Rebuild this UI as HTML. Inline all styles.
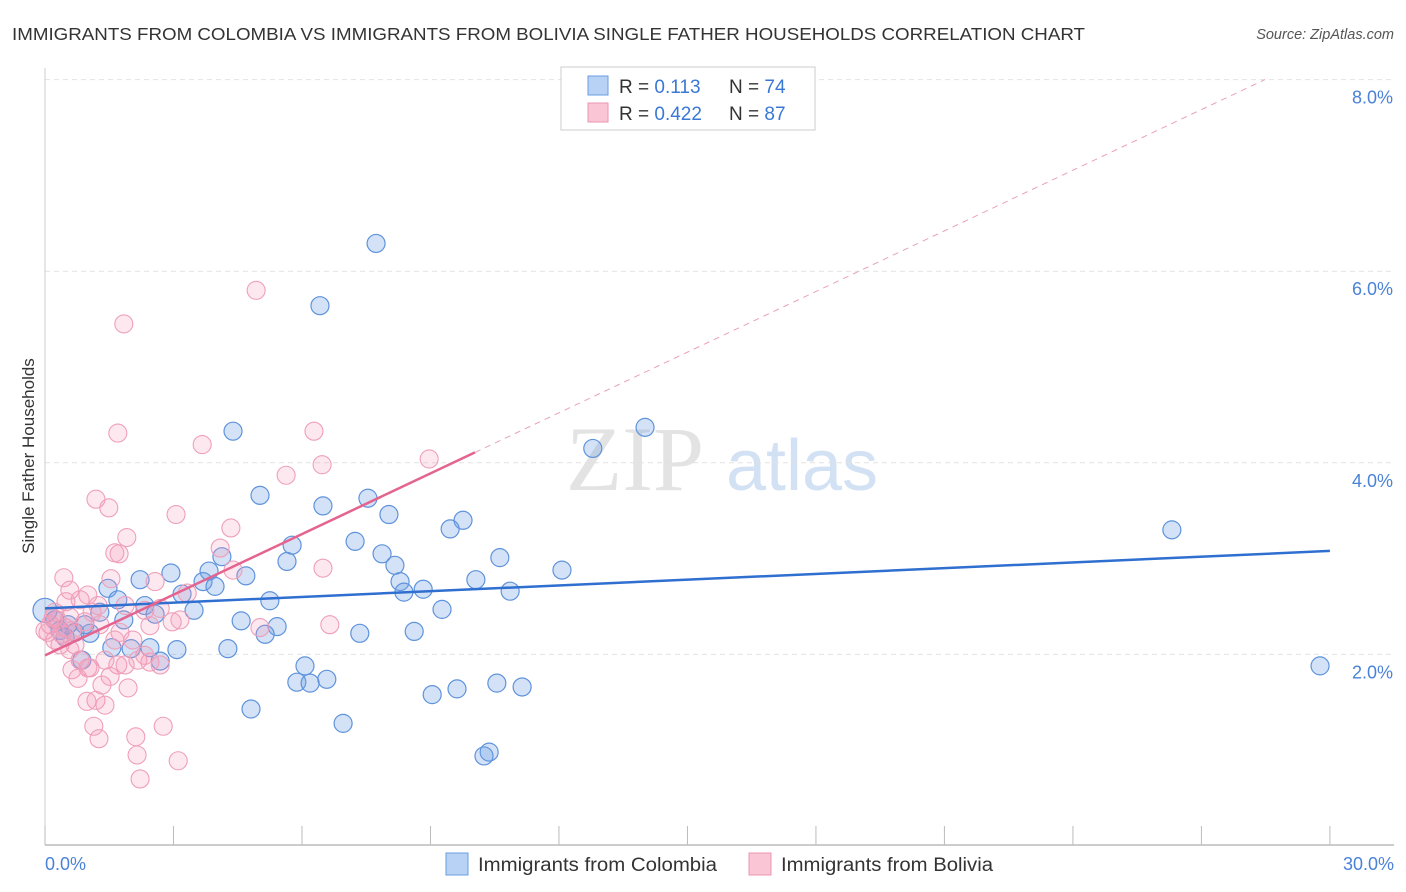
<!DOCTYPE html>
<html><head><meta charset="utf-8"><style>
body{margin:0;background:#fff;font-family:"Liberation Sans",sans-serif;}
svg{display:block}
</style></head><body>
<svg id="chart" width="1406" height="892">
<text x="12" y="40" font-size="17.5" fill="#333" textLength="1073" lengthAdjust="spacingAndGlyphs">IMMIGRANTS FROM COLOMBIA VS IMMIGRANTS FROM BOLIVIA SINGLE FATHER HOUSEHOLDS CORRELATION CHART</text>
<text x="1394" y="39" font-size="14.5" fill="#555" font-style="italic" text-anchor="end">Source: ZipAtlas.com</text>
<text x="34" y="456" font-size="17" fill="#333" text-anchor="middle" transform="rotate(-90 34 456)">Single Father Households</text>
<g><text x="635" y="490" font-size="92" fill="#ddd" font-family="Liberation Serif,serif" text-anchor="middle" opacity="0.8">ZIP</text><text x="802" y="490" font-size="72" fill="#c9daf2" text-anchor="middle" opacity="0.8">atlas</text></g>
<g id="grid"></g>
<g id="axes"></g>
<g id="pts"></g>
<g id="trend"></g>
<g>
<rect x="561" y="67" width="254" height="63" fill="#fff" stroke="#ccc"/>
<rect x="588" y="76" width="20" height="19" fill="#b7d2f5" stroke="#6a9de0"/>
<rect x="588" y="103" width="20" height="19" fill="#fac6d5" stroke="#eb96b1"/>
<text x="619" y="93" font-size="19" fill="#333">R = <tspan fill="#3a78d6"> 0.113</tspan><tspan x="729">N = </tspan><tspan fill="#3a78d6">74</tspan></text>
<text x="619" y="120" font-size="19" fill="#333">R = <tspan fill="#3a78d6">0.422</tspan><tspan x="729">N = </tspan><tspan fill="#3a78d6">87</tspan></text>
</g>
<g>
<rect x="446" y="853" width="22" height="22" fill="#b7d2f5" stroke="#6a9de0"/>
<text x="478" y="871" font-size="19" fill="#333" textLength="239" lengthAdjust="spacingAndGlyphs">Immigrants from Colombia</text>
<rect x="749" y="853" width="22" height="22" fill="#fac6d5" stroke="#eb96b1"/>
<text x="781" y="871" font-size="19" fill="#333" textLength="212" lengthAdjust="spacingAndGlyphs">Immigrants from Bolivia</text>
</g>
</svg>
<script>
const xTicks=[0,3,6,9,12,15,18,21,24,27,30];
const yTicks=[2,4,6,8];
const yTickLabels=["2.0%","4.0%","6.0%","8.0%"];
const xEndLabels=["0.0%","30.0%"];
const colX=[7.73,6.42,14.01,4.39,12.79,5.02,6.49,7.54,8.03,9.76,9.46,7.24,5.77,7.87,10.62,12.07,8.17,26.31,4.13,5.65,2.94,4.69,2.22,3.83,3.69,3.97,1.47,8.29,8.83,8.38,10.06,10.86,1.70,2.33,3.48,5.25,3.20,2.57,1.28,1.84,4.58,5.42,5.14,7.35,8.62,9.27,4.27,3.08,2.01,2.45,1.56,2.69,6.07,5.88,6.19,6.58,9.04,9.62,10.55,11.14,4.81,6.96,10.37,10.25,29.77,0,0.35,0.70,1.05,0.23,0.54,0.93,0.86,0.47];
const colY=[6.29,5.64,4.37,4.33,4.15,3.66,3.55,3.63,3.46,3.40,3.31,3.18,3.14,3.05,3.01,2.88,2.93,3.30,3.02,2.97,2.85,2.82,2.78,2.87,2.76,2.71,2.69,2.76,2.68,2.65,2.78,2.66,2.57,2.51,2.46,2.56,2.63,2.42,2.44,2.36,2.35,2.29,2.21,2.22,2.24,2.47,2.06,2.05,2.06,2.07,2.07,1.93,1.88,1.71,1.70,1.74,1.58,1.64,1.70,1.66,1.43,1.28,0.98,0.94,1.88,2.46,2.25,2.23,2.22,2.36,2.31,2.31,1.94,2.18];
const bolX=[4.93,1.84,1.70,3.67,6.28,5.63,6.47,8.97,1.19,1.49,3.06,4.34,1.91,4.09,1.63,1.73,6.49,0.44,4.39,1.54,2.57,0.58,1.00,0.49,0.82,1.24,1.87,3.32,2.69,2.33,0.23,0.58,0.93,1.28,1.75,2.45,2.97,3.15,2.05,5.02,6.65,0,0.23,0.40,0.12,0.35,0.58,0.82,1.05,1.40,1.70,2.17,2.45,2.69,0.63,1.00,0.77,1.52,1.33,1.94,1.19,0.98,1.40,1.14,2.76,1.26,2.12,2.15,3.11,2.22,0.28,0.07,0.19,0.47,0.70,0.63,1.10,2.33,1.87,1.63];
const bolY=[5.80,5.45,4.31,4.19,4.33,3.87,3.98,4.04,3.62,3.53,3.46,3.32,3.22,3.11,3.06,3.05,2.90,2.80,2.88,2.79,2.76,2.67,2.62,2.55,2.57,2.51,2.51,2.64,2.48,2.46,2.44,2.39,2.34,2.31,2.23,2.30,2.34,2.36,2.15,2.28,2.31,2.25,2.15,2.21,2.31,2.10,2.05,1.94,1.86,1.94,1.89,1.94,1.92,1.89,1.84,1.86,1.75,1.77,1.68,1.65,1.52,1.51,1.47,1.25,1.25,1.12,1.14,0.95,0.89,0.70,2.36,2.23,2.38,2.28,2.10,2.25,2.44,1.99,1.89,2.15];
const colTrend=[2.48,3.08];
const bolTrend=[1.99,0.211];
const bolSolidEnd=10.04;

const NS="http://www.w3.org/2000/svg";
const X=v=>45+v*42.83;
const Y=v=>846-v*95.8;
function mk(tag,attrs,parent){const e=document.createElementNS(NS,tag);for(const k in attrs)e.setAttribute(k,attrs[k]);document.getElementById(parent).appendChild(e);return e;}
yTicks.forEach((t,i)=>{
 const g=mk('line',{x1:45,x2:1394,y1:Y(t),y2:Y(t),stroke:'#e2e2e2','stroke-dasharray':'5,4'},'grid');
 
 
 const l=mk('text',{x:1393,y:Y(t)+24,'font-size':18,fill:'#4a82d8','text-anchor':'end'},'axes');
 l.textContent=yTickLabels[i];
 
 
});
const ax=mk('line',{x1:45,x2:1394,y1:845,y2:845,stroke:'#bbb','stroke-width':1.5},'axes');


const ay=mk('line',{x1:45,x2:45,y1:68,y2:845,stroke:'#ccc'},'axes');


xTicks.forEach(t=>{
 const k=mk('line',{x1:X(t),x2:X(t),y1:826,y2:845,stroke:'#bbb'},'axes');
 
 
});
[[0,'start',xEndLabels[0]],[30,'end',xEndLabels[1]]].forEach(a=>{
 const t=mk('text',{x:a[0]===0?45:1394,y:870,'font-size':18,fill:'#4a82d8','text-anchor':a[1]},'axes');
 t.textContent=a[2];
 
 
});
colX.forEach((v,i)=>{
 const c=mk('circle',{cx:X(v),cy:Y(colY[i]),r:(i===65?12:9),fill:'rgba(110,160,230,0.3)',stroke:'#5f93dc','stroke-width':1.2},'pts');
 
 
});
bolX.forEach((v,i)=>{
 const c=mk('circle',{cx:X(v),cy:Y(bolY[i]),r:9,fill:'rgba(245,150,180,0.22)',stroke:'#ef9fb9','stroke-width':1.1},'pts');
 
 
});
const bt=mk('line',{x1:X(0),y1:Y(colTrend[0]),x2:X(30),y2:Y(colTrend[1]),stroke:'#2f6fd0','stroke-width':2.5},'trend');


const pt=mk('line',{x1:X(0),y1:Y(bolTrend[0]),x2:X(bolSolidEnd),y2:Y(bolTrend[0]+bolTrend[1]*bolSolidEnd),stroke:'#e4648f','stroke-width':2.5},'trend');


const xe=(8.0-bolTrend[0])/bolTrend[1];
const pd=mk('line',{x1:X(bolSolidEnd),y1:Y(bolTrend[0]+bolTrend[1]*bolSolidEnd),x2:X(xe),y2:Y(8.0),stroke:'#eaa0b8','stroke-width':1,'stroke-dasharray':'6,5'},'trend');


</script>
</body></html>
